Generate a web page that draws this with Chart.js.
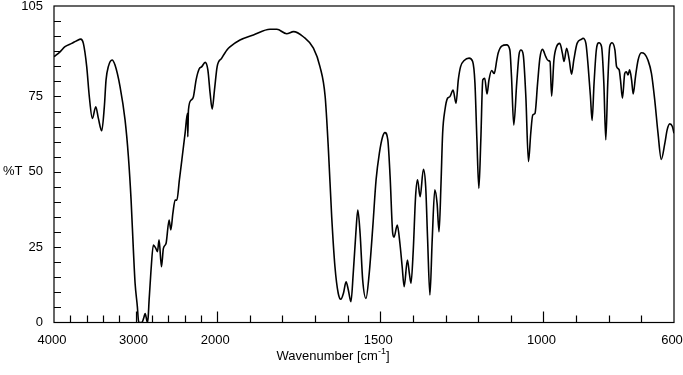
<!DOCTYPE html>
<html>
<head>
<meta charset="utf-8">
<script src="https://cdn.jsdelivr.net/npm/chart.js@4.4.1/dist/chart.umd.min.js"></script>
<style>
  html, body { margin: 0; padding: 0; background: #fff; }
  #wrap { width: 683px; height: 375px; position: relative; }
</style>
</head>
<body>
<div id="wrap"><canvas id="canvas"></canvas></div>
<script>
// spectrum: wavenumber (cm-1) and %T
var wavenumber = [
  4000, 3926, 3865, 3783, 3721, 3672, 3640, 3599, 3567, 3530, 3488, 3456, 3415, 3383, 3362, 3334,
  3288, 3252, 3190, 3129, 3088, 3055, 3027, 3006, 2978, 2966, 2955, 2924, 2900, 2883, 2865, 2855,
  2845, 2834, 2813, 2782, 2752, 2732, 2712, 2683, 2659, 2626, 2589, 2568, 2543, 2515, 2494, 2463,
  2433, 2393, 2364, 2360, 2352, 2319, 2291, 2258, 2221, 2188, 2147, 2114, 2086, 2061, 2033, 2000,
  1986, 1970, 1960, 1930, 1889, 1838, 1817, 1787, 1766, 1736, 1705, 1685, 1669, 1659, 1649, 1639,
  1629, 1621, 1613, 1605, 1598, 1590, 1583, 1575, 1569, 1562, 1554, 1544, 1534, 1523, 1513, 1503,
  1493, 1486, 1477, 1470, 1462, 1458, 1448, 1440, 1433, 1427, 1417, 1411, 1406, 1399, 1392, 1386,
  1378, 1368, 1361, 1355, 1348, 1341, 1333, 1326, 1320, 1314, 1309, 1302, 1294, 1287, 1277, 1268,
  1261, 1254, 1243, 1228, 1217, 1210, 1204, 1198, 1192, 1186, 1180, 1173, 1167, 1159, 1151, 1143,
  1139, 1128, 1113, 1103, 1098, 1091, 1082, 1075, 1069, 1062, 1054, 1046, 1039, 1033, 1026, 1018,
  1011, 1003, 993, 986, 980, 975, 968, 960, 950, 942, 937, 929, 921, 914, 907, 897,
  883, 879, 870, 863, 856, 851, 845, 838, 830, 822, 815, 809, 803, 797, 790, 781,
  776, 768, 764, 758, 751, 746, 741, 736, 730, 725, 718, 710, 700, 690, 680, 669,
  659, 649, 639, 628, 621, 613, 605, 600
];
var transmittance = [
  88.2, 89.8, 91.5, 92.6, 93.5, 94.0, 92.6, 84.9, 74.9, 67.7, 71.6, 67.7, 63.6, 71.6, 80.5, 84.9,
  87.1, 85.4, 78.2, 67.2, 55.0, 40.6, 24.1, 13.0, 5.2, 0.8, 0, 0, 1.5, 3.0, 1.0, 0,
  2.0, 7.5, 16.4, 25.7, 24.6, 23.5, 27.4, 18.5, 24.6, 26.3, 34.0, 30.7, 36.2, 40.6, 40.6, 47.3,
  53.9, 62.8, 69.4, 61.6, 70.5, 73.8, 74.9, 80.5, 84.1, 84.9, 86.3, 83.8, 76.0, 70.8, 77.1, 84.9,
  87.7, 90.4, 91.5, 93.7, 95.4, 97.3, 97.3, 95.8, 96.5, 94.8, 91.0, 84.9, 74.9, 57.2, 35.1, 18.5,
  9.7, 7.7, 9.7, 13.5, 10.8, 6.9, 16.3, 29.6, 37.3, 29.6, 14.1, 8.0, 16.3, 31.8, 47.3, 56.1,
  61.6, 63.0, 60.6, 48.4, 29.6, 28.3, 32.3, 26.3, 18.5, 11.9, 20.7, 16.3, 13.0, 24.1, 41.7, 47.3,
  41.7, 50.8, 45.1, 27.4, 9.1, 27.4, 44.0, 39.5, 30.1, 46.2, 62.8, 70.5, 74.4, 74.9, 77.1, 72.7,
  80.5, 84.9, 86.9, 87.7, 86.6, 79.4, 60.6, 44.5, 60.6, 80.5, 81.0, 75.8, 80.5, 83.6, 82.6, 87.1,
  89.3, 91.7, 92.1, 90.4, 81.6, 65.5, 79.4, 88.8, 90.4, 88.8, 74.9, 53.4, 62.8, 68.8, 69.4, 79.4,
  87.7, 90.6, 88.2, 86.9, 86.6, 75.1, 87.1, 91.5, 92.6, 89.3, 86.6, 91.0, 87.1, 82.4, 87.1, 92.6,
  94.0, 94.3, 92.6, 84.9, 74.9, 67.0, 79.4, 90.4, 92.8, 91.5, 79.4, 60.6, 79.4, 91.5, 92.8, 90.4,
  84.9, 83.8, 80.5, 74.4, 82.6, 83.2, 82.1, 83.8, 80.5, 75.8, 81.6, 87.1, 89.5, 89.1, 87.1, 82.6,
  73.8, 62.8, 54.1, 59.5, 63.9, 65.9, 65.0, 62.8
];

var xLabels = [4000, 3000, 2000, 1500, 1000, 600];
var xMajor = [3000, 2000, 1500, 1000];
var xMinor = [3800, 3600, 3400, 3200, 2800, 2600, 2400, 2200, 1900, 1800, 1700, 1600,
              1400, 1300, 1200, 1100, 900, 800, 700];
var yLabels = [0, 25, 50, 75, 105];
var yMinorStep = 5;

// instrument style axis: 4000-2000 drawn at a quarter of the scale of 2000-600
function toPos(w) {
  var u = w >= 2000 ? (4000 - w) : 2000 + 4 * (2000 - w);
  return u / 7600;
}
function fromPos(d) {
  var u = d * 7600;
  return u <= 2000 ? 4000 - u : 2000 - (u - 2000) / 4;
}

class IrScale extends Chart.LinearScale {
  getPixelForValue(v) { return this.getPixelForDecimal(toPos(v)); }
  getValueForPixel(p) { return fromPos(this.getDecimalForPixel(p)); }
}
IrScale.id = 'irscale';
IrScale.defaults = Chart.LinearScale.defaults;
Chart.register(IrScale);

var points = wavenumber.map(function(w, i) {
  return { x: w, y: transmittance[i] };
});

var font = { family: 'Liberation Sans, Arial, sans-serif', size: 13 };

var frame = {
  id: 'frame',
  afterDraw: function(chart) {
    var ctx = chart.ctx, a = chart.chartArea;
    var xs = chart.scales.x, ys = chart.scales.y;
    ctx.save();
    ctx.strokeStyle = '#000';
    ctx.lineWidth = 1.2;
    ctx.strokeRect(a.left, a.top, a.right - a.left, a.bottom - a.top);
    ctx.beginPath();
    xMinor.forEach(function(v) {
      var px = Math.round(xs.getPixelForValue(v)) + 0.5;
      ctx.moveTo(px, a.bottom); ctx.lineTo(px, a.bottom - 7);
    });
    xMajor.forEach(function(v) {
      var px = Math.round(xs.getPixelForValue(v)) + 0.5;
      ctx.moveTo(px, a.bottom); ctx.lineTo(px, a.bottom - 11);
    });
    for (var t = yMinorStep; t < 105; t += yMinorStep) {
      var py = Math.round(ys.getPixelForValue(t)) + 0.5;
      ctx.moveTo(a.left, py); ctx.lineTo(a.left + 7, py);
    }
    ctx.stroke();

    ctx.fillStyle = '#000';
    ctx.font = '13px "Liberation Sans", Arial, sans-serif';
    ctx.textBaseline = 'middle';
    ctx.textAlign = 'left';
    ctx.fillText('%T', 3, ys.getPixelForValue(50));

    // axis title with superscript -1
    var y0 = 356;
    var s1 = 'Wavenumber [cm', s2 = '-1', s3 = ']';
    var w1 = ctx.measureText(s1).width;
    ctx.font = '9px "Liberation Sans", Arial, sans-serif';
    var w2 = ctx.measureText(s2).width;
    ctx.font = '13px "Liberation Sans", Arial, sans-serif';
    var w3 = ctx.measureText(s3).width;
    var x0 = 333 - (w1 + w2 + w3) / 2;
    ctx.fillText(s1, x0, y0);
    ctx.font = '9px "Liberation Sans", Arial, sans-serif';
    ctx.fillText(s2, x0 + w1, y0 - 4);
    ctx.font = '13px "Liberation Sans", Arial, sans-serif';
    ctx.fillText(s3, x0 + w1 + w2, y0);
    ctx.restore();
  }
};

var ctx = document.getElementById('canvas').getContext('2d');
var myChart = new Chart(ctx, {
  type: 'line',
  data: {
    datasets: [{
      label: '%T',
      data: points,
      borderColor: '#000',
      backgroundColor: 'transparent',
      borderWidth: 1.6,
      pointRadius: 0,
      cubicInterpolationMode: 'monotone',
      fill: false
    }]
  },
  options: {
    responsive: true,
    maintainAspectRatio: false,
    animation: false,
    layout: { padding: { top: 6, right: 9, left: 0, bottom: 0 } },
    plugins: { legend: { display: false }, tooltip: { enabled: false } },
    scales: {
      x: {
        type: 'irscale',
        min: 600,
        max: 4000,
        grid: { display: false, drawTicks: false },
        border: { display: false },
        ticks: {
          color: '#000',
          font: font,
          padding: 10,
          maxRotation: 0,
          autoSkip: false,
          labelOffset: -2,
          callback: function(v) { return String(v); }
        },
        afterBuildTicks: function(scale) {
          scale.ticks = xLabels.map(function(v) { return { value: v }; });
        },
        afterFit: function(scale) {
          scale.height = 52.5;
          scale.paddingLeft = 0;
          scale.paddingRight = 0;
        }
      },
      y: {
        min: 0,
        max: 105,
        grid: { display: false, drawTicks: false },
        border: { display: false },
        ticks: {
          color: '#000',
          font: font,
          padding: 11,
          autoSkip: false
        },
        afterBuildTicks: function(scale) {
          scale.ticks = yLabels.map(function(v) { return { value: v }; });
        },
        afterFit: function(scale) {
          scale.width = 54;
          scale.paddingTop = 0;
          scale.paddingBottom = 0;
        }
      }
    }
  },
  plugins: [frame]
});
</script>
</body>
</html>
